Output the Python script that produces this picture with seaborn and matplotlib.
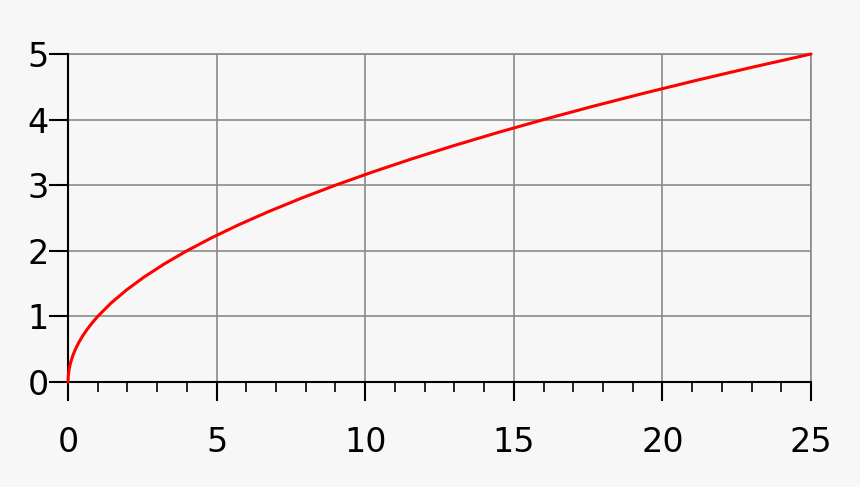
import numpy as np
import pandas as pd
import seaborn as sns
import matplotlib.pyplot as plt
from matplotlib.ticker import MultipleLocator

# points
x_vals = [0, 0.01, 0.04, 0.09, 0.16, 0.25, 0.36, 0.49, 0.64, 0.81, 1, 1.44, 1.96,
          2.56, 3.24, 4, 4.84, 5.76, 6.76, 7.84, 9, 10.24, 11.56, 12.96, 14.44,
          16, 17.64, 19.36, 21.16, 23.04, 25]
y_vals = [0, 0.1, 0.2, 0.3, 0.4, 0.5, 0.6, 0.7, 0.8, 0.9, 1, 1.2, 1.4,
          1.6, 1.8, 2, 2.2, 2.4, 2.6, 2.8, 3, 3.2, 3.4, 3.6, 3.8,
          4, 4.2, 4.4, 4.6, 4.8, 5]
x_ticks = [0, 5, 10, 15, 20, 25]
y_ticks = [0, 1, 2, 3, 4, 5]

df = pd.DataFrame({'x': x_vals, 'y': y_vals})

sns.set_style('white')
plt.rcParams['font.family'] = ['DejaVu Sans']

fig = plt.figure(figsize=(8.6, 4.87), dpi=100, facecolor='#f7f7f7')
ax = fig.add_axes([68 / 860, 1 - 382 / 487, (811 - 68) / 860, (382 - 54) / 487])
ax.set_facecolor('#f7f7f7')

ax.set_xlim(0, 25)
ax.set_ylim(0, 5)
ax.set_xticks(x_ticks)
ax.set_yticks(y_ticks)
ax.xaxis.set_minor_locator(MultipleLocator(1))
ax.grid(True, which='major', color='#8a8a8a', linewidth=1.2)
ax.set_axisbelow(True)

sns.lineplot(data=df, x='x', y='y', color='red', linewidth=2.2, ax=ax, clip_on=False, zorder=5)

for side in ['top', 'right']:
    ax.spines[side].set_color('#8a8a8a')
    ax.spines[side].set_linewidth(1.2)
for side in ['left', 'bottom']:
    ax.spines[side].set_color('black')
    ax.spines[side].set_linewidth(1.5)
    ax.spines[side].set_zorder(4)

ax.tick_params(axis='x', which='major', bottom=True, direction='out', length=14, width=1.5,
               color='black', labelcolor='black', labelsize=24, pad=18)
ax.tick_params(axis='x', which='minor', bottom=True, direction='out', length=7, width=1.2,
               color='black')
ax.tick_params(axis='y', which='major', left=True, direction='out', length=14, width=1.5,
               color='black', labelcolor='black', labelsize=24, pad=0)
ax.set_xlabel('')
ax.set_ylabel('')

fig.savefig('out.png', dpi=100, facecolor='#f7f7f7')
